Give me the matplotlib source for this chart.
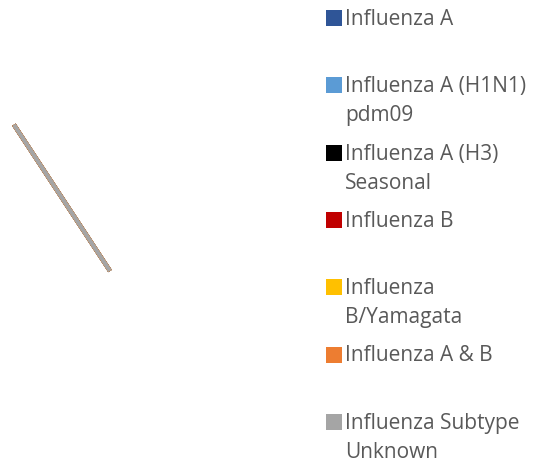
import matplotlib.pyplot as plt
from matplotlib.patches import Rectangle

# Series: every subtype has a count of 0, so the pie collapses to one edge line
labels = ["Influenza A", "Influenza A (H1N1)\npdm09", "Influenza A (H3)\nSeasonal",
          "Influenza B", "Influenza\nB/Yamagata", "Influenza A & B",
          "Influenza Subtype\nUnknown"]
counts = [0, 0, 0, 0, 0, 0, 0]
colors = ["#2F5597", "#5B9BD5", "#000000", "#C00000", "#FFC000", "#ED7D31", "#A5A5A5"]

W, H = 540, 464
fig = plt.figure(figsize=(W / 100, H / 100), dpi=100)

# pie axes: centre at pixel (110, 272), radius 175 px
r = 175
ax = fig.add_axes([(110 - r) / W, (H - 272 - r) / H, 2 * r / W, 2 * r / H])
wedges, _ = ax.pie(counts, colors=colors, normalize=False, startangle=123.3,
                   radius=1, wedgeprops=dict(linewidth=3))
for w, c in zip(wedges, colors):
    w.set_edgecolor(c)
ax.set_xlim(-1, 1)
ax.set_ylim(-1, 1)
ax.set_aspect("equal")
ax.axis("off")

# legend drawn by hand so single-line entries keep the two-line slot
top = 9
slot = 67.3
for i, (lab, c) in enumerate(zip(labels, colors)):
    y = top + i * slot
    fig.add_artist(Rectangle((326 / W, 1 - (y + 18) / H), 16 / W, 16 / H,
                             transform=fig.transFigure, facecolor=c,
                             edgecolor="none"))
    fig.text(345 / W, 1 - y / H, lab, fontsize=15, color="#595959",
             family="Open Sans", va="top", ha="left", linespacing=1.5)

fig.savefig("out.png", dpi=100)
